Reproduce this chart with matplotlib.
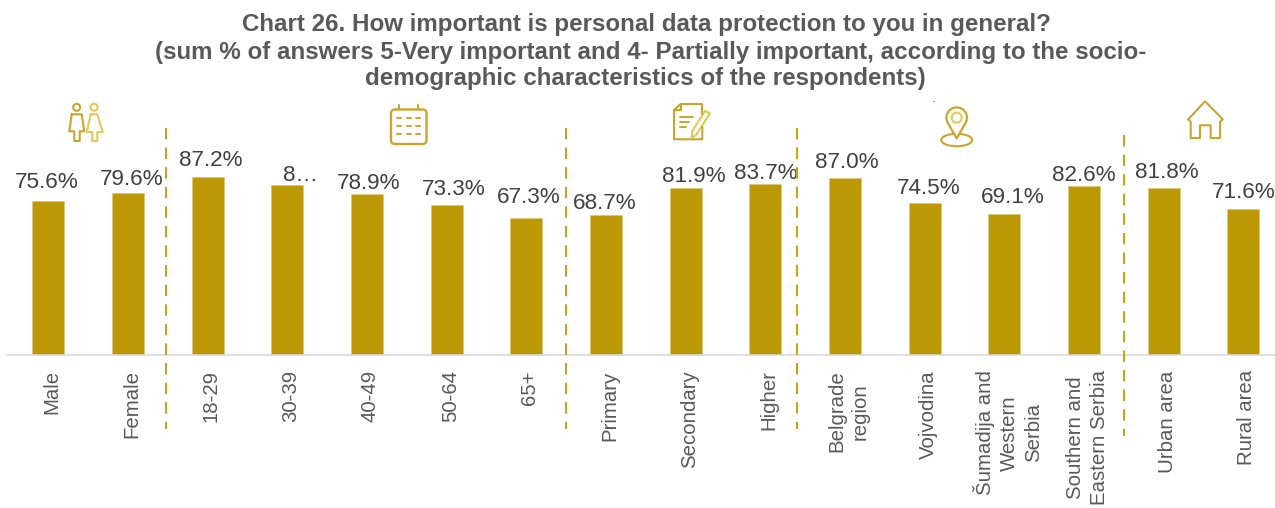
import numpy as np
import matplotlib
matplotlib.use("Agg")
import matplotlib.pyplot as plt
from matplotlib.patches import Circle, Ellipse, FancyBboxPatch, Polygon
from matplotlib.transforms import ScaledTranslation

plt.rcParams['font.family'] = ['Liberation Sans', 'DejaVu Sans']

categories = ["Male", "Female", "18-29", "30-39", "40-49", "50-64", "65+",
              "Primary", "Secondary", "Higher", "Belgrade\nregion", "Vojvodina",
              "Šumadija and\nWestern\nSerbia", "Southern and\nEastern Serbia",
              "Urban area", "Rural area"]
values = [75.6, 79.6, 87.2, 83.1, 78.9, 73.3, 67.3, 68.7, 81.9, 83.7, 87.0, 74.5,
          69.1, 82.6, 81.8, 71.6]
value_labels = ["75.6%", "79.6%", "87.2%", "8…", "78.9%", "73.3%", "67.3%", "68.7%",
                "81.9%", "83.7%", "87.0%", "74.5%", "69.1%", "82.6%", "81.8%", "71.6%"]
label_dx_px = [-2, 4, 3, 13, 2, 7, 2, -1, 8, 0, 2, 4, 8, 0, 3, 0]
label_dy_px = [18, 13, 17, 10, 11, 16, 20, 11, 11, 11, 15, 15, 17, 11, 16, 16]
title_lines = ["Chart 26. How important is personal data protection to you in general?",
               "(sum % of answers 5-Very important and 4- Partially important, according to the socio-",
               "demographic characteristics of the respondents)"]
title_cx = [646, 651, 645]
title_cy = [25, 52, 78]

W, H = 1275, 508
GOLD = "#BC9806"
ICON = "#CBA52B"
ICON_LIGHT = "#E3C858"
fig = plt.figure(figsize=(W / 100, H / 100), dpi=100, facecolor="white")

# main axes: baseline at y=355 px, one category = 79.67 px, first bar at x=48.3 px
base_px, px_per_unit, step, x0 = 355, 2.04, 79.67, 48.3
left = x0 - step / 2
ax = fig.add_axes([left / W, (H - base_px) / H, (W - left) / W, base_px / H])
ax.set_xlim(-0.5, -0.5 + (W - left) / step)
ax.set_ylim(0, base_px / px_per_unit)
ax.patch.set_alpha(0)
xs = list(range(len(categories)))
ax.bar(xs, values, width=32 / step, color=GOLD, edgecolor="#D9C77A", linewidth=0.5)
for s in ("top", "left", "right"):
    ax.spines[s].set_visible(False)
ax.spines["bottom"].set_color("#D9D9D9")
ax.spines["bottom"].set_linewidth(1.2)
ax.set_yticks([])
ax.set_xticks(xs)
ax.set_xticklabels(categories, rotation=90, fontsize=14.7, color="#595959",
                   ha="center", va="top", multialignment="center", linespacing=1.32)
ax.tick_params(axis="x", length=0, pad=11)
shift = ScaledTranslation(3.5 / 100, 0, fig.dpi_scale_trans)
for lab in ax.get_xticklabels():
    lab.set_transform(lab.get_transform() + shift)
for x, v, t, dx, dy in zip(xs, values, value_labels, label_dx_px, label_dy_px):
    ax.annotate(t, (x, v), xytext=(dx * 0.72, dy * 0.72), textcoords="offset points",
                ha="center", va="center", fontsize=16.2, color="#404040")

# overlay in pixel coordinates for title, separators and icons
ov = fig.add_axes([0, 0, 1, 1])
ov.set_xlim(0, W)
ov.set_ylim(H, 0)
ov.axis("off")
ov.patch.set_alpha(0)
for t, cx, cy in zip(title_lines, title_cx, title_cy):
    ov.text(cx, cy, t, ha="center", va="center", fontsize=17.4, fontweight="bold",
            color="#595959")

for x, y0, y1 in [(166, 128, 429), (566, 128, 429), (797, 128, 429), (1124, 135, 436)]:
    ov.plot([x, x], [y0, y1], color="#C9A415", lw=1.5, dashes=(5.5, 3.9))


def line(xy, lw=1.5, color=ICON, close=False):
    if close:
        xy = list(xy) + [xy[0]]
    ov.plot([p[0] for p in xy], [p[1] for p in xy], color=color, lw=lw,
            solid_joinstyle="round", solid_capstyle="round")


# gender icon
ov.add_patch(Circle((76.7, 107.3), 3.5, fill=False, ec=ICON, lw=1.5))
ov.add_patch(Circle((94, 107.3), 3.5, fill=False, ec=ICON_LIGHT, lw=1.5))
line([(71.7, 114.3), (81.7, 114.3), (84.3, 131.3), (79.7, 131.3), (79.7, 141), (74.3, 141),
      (74.3, 131.3), (69.3, 131.3)], close=True)
line([(90.7, 114.3), (97.3, 114.3), (102.7, 132), (97.3, 132), (97.3, 141), (92.3, 141),
      (92.3, 132), (86.7, 132)], color=ICON_LIGHT, close=True)
line([(110, 97.5), (110.3, 97.5)], lw=1.0, color="#A8801A")
line([(110, 144.7), (110.3, 144.7)], lw=0.8, color="#A8801A")

# calendar icon
ov.add_patch(FancyBboxPatch((391, 109.5), 35.5, 34.5, boxstyle="round,pad=0,rounding_size=4",
                            fill=False, ec=ICON, lw=1.7))
line([(399.3, 105), (399.3, 109)])
line([(418.3, 105), (418.3, 109)])
for yy in (118.3, 126, 134):
    for xx in (399.3, 409, 418.3):
        line([(xx - 2, yy), (xx + 2, yy)], lw=1.4)

# document and pencil icon
line([(680.7, 104), (702.3, 104), (702.3, 114)])
line([(702.3, 127), (702.3, 139.3), (674, 139.3), (674, 110), (680.7, 104)])
line([(680.7, 104), (680.7, 110), (674, 110)])
for yy, x1 in ((116.7, 693.3), (121.7, 689.3), (127.3, 686)):
    line([(680, yy), (x1, yy)], lw=1.4)
ov.add_patch(Polygon([(705, 111), (710, 113.3), (696, 135), (691.7, 137.7), (692.3, 131)],
                     closed=True, fill=False, ec=ICON_LIGHT, lw=1.5, joinstyle="round"))

# location pin icon
ov.add_patch(Ellipse((956.7, 140), 31, 12.5, fill=False, ec=ICON, lw=1.5))
angles = np.radians(np.linspace(-30, 210, 25))
pin = [(956.7, 138.3)] + [(956.7 + 10.3 * np.cos(a), 117.7 - 10.3 * np.sin(a)) for a in angles]
ov.add_patch(Polygon(pin, closed=True, fc="white", ec=ICON, lw=1.6, joinstyle="round"))
ov.add_patch(Circle((956.7, 117.7), 5, fc="white", ec=ICON_LIGHT, lw=1.5))
line([(933.3, 101), (933.5, 101)], lw=0.8, color="#C08A10")

# house icon
line([(1188.3, 119.3), (1205, 101.3), (1222.7, 119.3), (1220, 122), (1220, 138), (1210.7, 138),
      (1210.7, 125.3), (1200, 125.3), (1200, 138), (1190.7, 138), (1190.7, 122)], close=True)

fig.savefig("out.png", dpi=100)
